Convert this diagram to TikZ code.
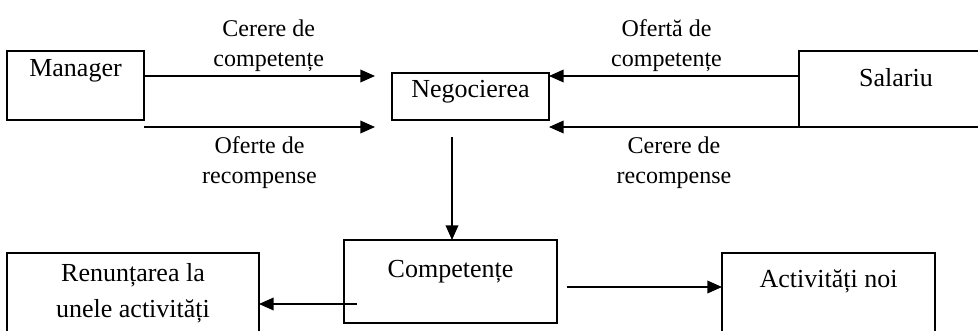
\documentclass[tikz,border=0pt]{standalone}
\usepackage{fontspec}
\setmainfont{Liberation Serif}
\usetikzlibrary{arrows.meta,calc}
\newcommand{\boxfont}{\fontsize{19.5}{27}\selectfont}
\newcommand{\lblfont}{\fontsize{18}{22}\selectfont}
\tikzset{
  box/.style={draw, line width=1.1pt, inner xsep=2pt, inner ysep=0pt, outer sep=0pt, anchor=north west, align=center, font=\boxfont},
  lbl/.style={font=\lblfont, align=center, inner sep=1pt},
  arr/.style={line width=1.1pt, -{Triangle[length=11pt,width=9.5pt]}}
}

\begin{document}
\begin{tikzpicture}[x=0.75pt,y=-0.75pt]
\useasboundingbox (0,0) rectangle (978,331);
\clip (0,0) rectangle (978,331);
\node[box, minimum width=102.75pt, text height=19.5pt, text depth=32.25pt] (mgr) at (7,51) {Manager};
\node[box, minimum width=117.75pt, text height=18.75pt, text depth=16.5pt] (neg) at (392,73) {Negocierea};
\node[box, minimum width=145.5pt, text height=27pt, text depth=30pt] (sal) at (799,51) {Salariu};
\node[box, minimum width=159.75pt, text height=27.75pt, text depth=34.5pt] (comp) at (344,240) {Competențe};
\node[box, minimum width=189pt, text height=48pt, text depth=13.5pt] (ren) at (7,253) {Renunțarea la\\unele activități};
\node[box, minimum width=159.75pt, text height=26.25pt, text depth=39pt] (act) at (722,253) {Activități noi};

% cereri si oferte spre negociere
\draw[arr] ($(mgr.north east)+(0,25)$) -- ($(neg.north west)+(-17,3)$)
  node[lbl, above=2pt, pos=.54] {Cerere de\\competențe};
\draw[arr] ($(mgr.south east)+(0,7)$) -- ($(neg.south west)+(-17,7)$)
  node[lbl, below=6pt, pos=.5] {Oferte de\\recompense};
\draw[arr] ($(sal.north west)+(0,25)$) -- ($(neg.north east)+(0,3)$)
  node[lbl, above=2pt, pos=.53] {Ofertă de\\competențe};
\draw[arr] (sal.south west) -- ($(neg.south east)+(0,7)$)
  node[lbl, below=6pt, pos=.5] {Cerere de\\recompense};

% rezultatul negocierii
\draw[arr] ($(neg.south west)+(60,17)$) -- ($(comp.north west)+(108,0)$);
\draw[arr] ($(comp.south west)+(13,-19)$) -- ($(ren.north east)+(0,51)$);
\draw[arr] ($(comp.north east)+(10,47)$) -- ($(act.north west)+(0,34)$);
\end{tikzpicture}
\end{document}
